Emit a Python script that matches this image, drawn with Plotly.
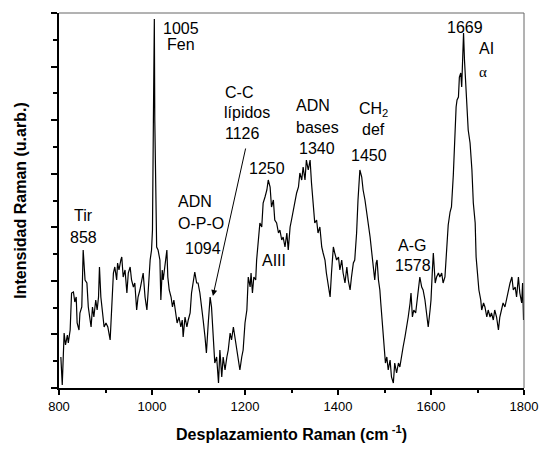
import plotly.graph_objects as go

# Raman spectrum (wavenumber in cm-1, intensity in arbitrary units)
wavenumber = [804, 807, 811, 814, 818, 820, 824, 827, 831, 834, 837, 839, 843, 845, 849, 852, 856, 860, 863, 867,
              869, 872, 875, 879, 882, 885, 887, 890, 893, 897, 901, 905, 910, 913, 917, 920, 924, 926, 929, 933,
              935, 938, 942, 946, 949, 953, 956, 960, 963, 967, 970, 974, 978, 981, 985, 989, 992, 996, 999, 1001,
              1003, 1005, 1006, 1009, 1010, 1013, 1017, 1019, 1022, 1024, 1028, 1032, 1034, 1037, 1041, 1044, 1047,
              1051, 1054, 1058, 1062, 1065, 1067, 1071, 1075, 1078, 1082, 1085, 1089, 1092, 1096, 1099, 1103, 1107,
              1110, 1114, 1117, 1121, 1125, 1128, 1132, 1135, 1139, 1143, 1146, 1150, 1153, 1157, 1161, 1164, 1168,
              1171, 1175, 1178, 1182, 1186, 1189, 1193, 1196, 1200, 1204, 1207, 1211, 1213, 1216, 1219, 1223, 1225,
              1229, 1232, 1236, 1239, 1243, 1247, 1250, 1254, 1257, 1261, 1264, 1268, 1272, 1275, 1279, 1282, 1286,
              1290, 1293, 1297, 1300, 1304, 1307, 1311, 1315, 1318, 1322, 1325, 1329, 1332, 1336, 1340, 1343, 1347,
              1350, 1354, 1357, 1361, 1365, 1368, 1372, 1375, 1379, 1383, 1386, 1390, 1393, 1397, 1401, 1404, 1408,
              1411, 1415, 1419, 1422, 1426, 1429, 1433, 1436, 1440, 1443, 1447, 1451, 1454, 1458, 1461, 1465, 1469,
              1472, 1476, 1479, 1482, 1484, 1487, 1490, 1492, 1495, 1497, 1499, 1502, 1505, 1508, 1512, 1515, 1519,
              1522, 1526, 1530, 1533, 1537, 1540, 1544, 1548, 1551, 1555, 1557, 1560, 1563, 1567, 1571, 1574, 1576,
              1580, 1583, 1587, 1591, 1594, 1598, 1600, 1603, 1605, 1609, 1612, 1616, 1619, 1623, 1626, 1630, 1634,
              1637, 1641, 1644, 1648, 1652, 1654, 1656, 1659, 1661, 1664, 1666, 1668, 1670, 1672, 1675, 1677, 1680,
              1684, 1688, 1691, 1695, 1697, 1700, 1703, 1707, 1709, 1713, 1716, 1720, 1723, 1727, 1730, 1734, 1737,
              1741, 1745, 1748, 1752, 1755, 1759, 1763, 1766, 1770, 1774, 1777, 1781, 1784, 1788, 1791, 1795, 1797,
              1799]
intensity = [31, 3, 55, 43, 53, 45, 58, 95, 96, 86, 91, 65, 58, 75, 81, 138, 108, 105, 81, 68,
             61, 81, 71, 88, 78, 91, 121, 91, 78, 61, 65, 61, 48, 81, 115, 121, 108, 125, 118, 128,
             131, 111, 118, 95, 115, 121, 108, 101, 105, 78, 91, 98, 108, 115, 91, 78, 98, 128, 138, 158,
             268, 369, 268, 148, 141, 138, 128, 88, 118, 108, 121, 138, 111, 98, 91, 81, 88,
             71, 65, 71, 61, 68, 51, 71, 61, 68, 75, 95, 108, 116, 105, 105, 95, 81,
             68, 51, 35, 65, 91, 81, 51, 25, 31, 5, 38, 11, 31, 18, 31, 38, 55,
             48, 61, 51, 38, 25, 18, 31, 38, 65, 78, 111, 101, 115, 95, 111, 108, 128,
             155, 165, 161, 185, 191, 198, 208, 201, 181, 188, 168, 165, 155, 158, 148, 151, 141,
             155, 138, 161, 168, 178, 185, 195, 201, 215, 208, 221, 208, 228, 218, 228, 205, 185,
             165, 168, 155, 161, 141, 135, 128, 115, 105, 91, 115, 141, 135, 128, 131, 118, 128,
             115, 105, 121, 108, 98, 111, 125, 128, 155, 188, 218, 211, 198, 188, 178, 168, 151,
             138, 121, 108, 125, 128, 108, 98, 85, 65, 48, 35, 25, 31, 18, 28, 11, 5,
             25, 15, 25, 21, 35, 41, 51, 61, 71, 85, 95, 71, 78, 75, 91, 105, 111,
             101, 98, 88, 75, 61, 78, 88, 118, 135, 105, 111, 115, 111, 115, 105, 111, 148,
             163, 176, 181, 213, 261, 281, 288, 291, 311, 315, 301, 335, 355, 328, 301, 288, 258,
             245, 218, 185, 165, 131, 118, 98, 88, 78, 85, 81, 71, 78, 71, 75, 68, 78,
             71, 58, 71, 78, 85, 81, 91, 95, 105, 111, 98, 101, 91, 111, 95, 85, 105,
             68]

x_ticks = [800, 1000, 1200, 1400, 1600, 1800]

# Band labels: (text, wavenumber, intensity, anchor)
labels = [
    ("Tir", 852, 173, "center"), ("858", 852, 151, "center"),
    ("1005", 1062, 360, "center"), ("Fen", 1062, 344, "center"),
    ("C-C", 1153, 296, "left"), ("lípidos", 1151, 276, "left"), ("1126", 1153, 255, "left"),
    ("ADN", 1052, 187, "left"), ("O-P-O", 1052, 165, "left"), ("1094", 1067, 140, "left"),
    ("1250", 1247, 220, "center"), ("AIII", 1232, 128, "left"),
    ("ADN", 1305, 283, "left"), ("bases", 1305, 261, "left"), ("1340", 1311, 240, "left"),
    ("CH<sub>2</sub>", 1441, 279, "left"), ("def", 1447, 259, "left"), ("1450", 1424, 233, "left"),
    ("A-G", 1525, 143, "left"), ("1578", 1518, 123, "left"),
    ("1669", 1630, 361, "left"), ("AI", 1699, 340, "left"),
]

fig = go.Figure()
fig.add_trace(go.Scatter(x=wavenumber, y=intensity, mode="lines",
                         line=dict(color="black", width=1.2), showlegend=False))

font_main = "Liberation Sans, Arial, sans-serif"
for text, xv, yv, anc in labels:
    fig.add_annotation(x=xv, y=yv, text=text, showarrow=False, xanchor=anc, yanchor="middle",
                       font=dict(family=font_main, size=16, color="black"))
fig.add_annotation(x=1699, y=316, text="α", showarrow=False, xanchor="left", yanchor="middle",
                   font=dict(family="Liberation Serif, serif", size=15, color="black"))
# arrow pointing to the 1126 band
fig.add_annotation(x=1131, y=92, ax=1202, ay=241, axref="x", ayref="y", text="",
                   showarrow=True, arrowhead=2, arrowsize=1.2, arrowwidth=1, arrowcolor="black",
                   standoff=0, startstandoff=0)

fig.update_layout(
    width=540, height=449,
    margin=dict(l=59, r=16, t=13, b=61, autoexpand=False),
    paper_bgcolor="white", plot_bgcolor="white",
    font=dict(family=font_main, color="black"),
    xaxis=dict(range=[800, 1800], tickvals=x_ticks, ticktext=[str(v) for v in x_ticks],
               automargin=False,
               ticks="outside", ticklen=5, tickwidth=1.5, tickcolor="black",
               showline=True, linecolor="black", linewidth=2, showgrid=False, zeroline=False,
               tickfont=dict(size=13, family=font_main),
               minor=dict(dtick=100, tick0=800, ticks="outside", ticklen=3, tickwidth=1.5, tickcolor="black", showgrid=False),
               title=dict(text="<b>Desplazamiento Raman (cm<sup> -1</sup>)</b>", font=dict(size=16, family=font_main), standoff=16)),
    yaxis=dict(range=[0, 375], tick0=0, dtick=375 / 7, showticklabels=False, automargin=False,
               ticks="outside", ticklen=6, tickwidth=1.5, tickcolor="black",
               showline=True, linecolor="black", linewidth=2, showgrid=False, zeroline=False,
               minor=dict(dtick=375 / 14, tick0=0, ticks="outside", ticklen=4, tickwidth=1.5, tickcolor="black", showgrid=False),
               title=dict(text="<b>Intensidad Raman (u.arb.)</b>", font=dict(size=16, family=font_main), standoff=20)),
    shapes=[
        dict(type="line", xref="paper", yref="paper", x0=0, x1=1, y0=1, y1=1, line=dict(color="#666666", width=1)),
        dict(type="line", xref="paper", yref="paper", x0=1, x1=1, y0=0, y1=1, line=dict(color="#666666", width=1)),
    ],
)

# remove the browser's default 8px body margin so the figure sits at the page origin
fig.write_html("out.html", config={"displayModeBar": False},
               post_script="document.body.style.margin='0px';document.documentElement.style.overflow='hidden';")
